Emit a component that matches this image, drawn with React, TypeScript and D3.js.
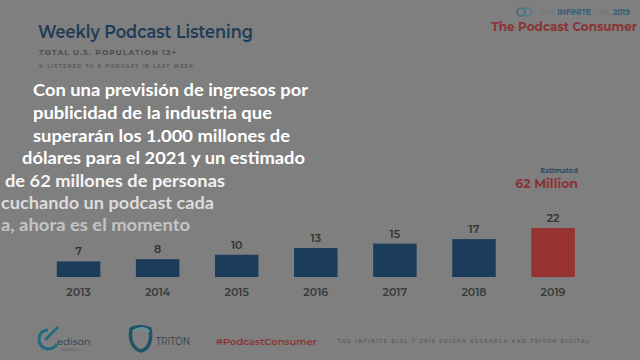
import React from "react";
import * as d3 from "d3";

const years = ["2013", "2014", "2015", "2016", "2017", "2018", "2019"];
const values = [7, 8, 10, 13, 15, 17, 22];
const highlightYear = "2019";
const overlayLines = [
  "Con una previsión de ingresos por",
  "publicidad de la industria que",
  "superarán los 1.000 millones de",
  "dólares para el 2021 y un estimado",
  "de 62 millones de personas",
  "cuchando un podcast cada",
  "a, ahora es el momento",
];

const W = 640;
const H = 360;

export default function App() {
  const x = d3
    .scaleBand<string>()
    .domain(years)
    .range([39, 592.6])
    .paddingInner(0.45)
    .paddingOuter(0.225);
  const y = d3.scaleLinear().domain([0, 22]).range([277, 228]);

  const overlayLayout = [
    { x: 33, y: 96, w: 275, fill: "#ffffff" },
    { x: 33, y: 119, w: 239, fill: "#ffffff" },
    { x: 33, y: 142, w: 257, fill: "#ffffff" },
    { x: 22, y: 164, w: 283, fill: "#ffffff" },
    { x: 5, y: 187, w: 220, fill: "#f4f4f4" },
    { x: 1, y: 209, w: 213, fill: "#dcdcdc" },
    { x: 1, y: 231, w: 189, fill: "#c4c4c4" },
  ];

  return (
    <svg
      width={W}
      height={H}
      style={{ position: "absolute", left: 0, top: 0, display: "block" }}
      fontFamily="Montserrat, 'Open Sans', Lato, sans-serif"
    >
      <rect x={0} y={0} width={W} height={H} fill="#7f7f7f" />

      {/* Title block */}
      <text x={38} y={38} fontSize={17.5} fontWeight={600} fill="#1d3c57" textLength={215} lengthAdjust="spacingAndGlyphs">
        Weekly Podcast Listening
      </text>
      <text x={39} y={55} fontSize={7.5} fontWeight={700} fill="#4e4e4e" textLength={137} lengthAdjust="spacing">
        TOTAL U.S. POPULATION 12+
      </text>
      <text x={39} y={68} fontSize={5} fontWeight={700} fill="#5a5a5a" textLength={154} lengthAdjust="spacing">
        % LISTENED TO A PODCAST IN LAST WEEK
      </text>

      {/* Top-right brand */}
      <g>
        <circle cx={521} cy={12} r={4} fill="none" stroke="#3f6f7f" strokeWidth={1.6} />
        <circle cx={528} cy={12} r={4} fill="none" stroke="#4e7f8c" strokeWidth={1.6} />
        <text x={540} y={15} fontSize={8} fill="#5f6f78" textLength={90} lengthAdjust="spacing">
          <tspan fill="#6e7478">THE </tspan>
          <tspan fontWeight={700} fill="#3d6073">INFINITE </tspan>
          <tspan fill="#6e7478">DIAL </tspan>
          <tspan fontWeight={700} fill="#3d6073">2019</tspan>
        </text>
        <text x={637} y={31} textAnchor="end" fontSize={12} fontWeight={700} fill="#8a3434">
          The Podcast Consumer
        </text>
      </g>

      {/* Bars */}
      {years.map((yr, i) => {
        const v = values[i];
        const bx = x(yr)!;
        const bw = x.bandwidth();
        const top = y(v);
        const isHi = yr === highlightYear;
        return (
          <g key={yr}>
            <rect x={bx} y={top} width={bw} height={y(0) - top} fill={isHi ? "#963230" : "#1b3d5b"} />
            <text x={bx + bw / 2} y={top - 6} textAnchor="middle" fontSize={11} fontWeight={600} fill="#333333">
              {v}
            </text>
            <text x={bx + bw / 2} y={296} textAnchor="middle" fontSize={11} fontWeight={600} fill="#3a3a3a">
              {yr}
            </text>
          </g>
        );
      })}

      {/* Estimated annotation */}
      <text x={578} y={173} textAnchor="end" fontSize={7} fontWeight={700} fill="#2a4a66">
        Estimated
      </text>
      <text x={578} y={188} textAnchor="end" fontSize={12.5} fontWeight={700} fill="#8a3434">
        62 Million
      </text>

      {/* Footer */}
      <g>
        <path d="M48,330 C36,330 36,348 48,349 C52,349 55,347 57,344" fill="none" stroke="#1f6a7f" strokeWidth={3} />
        <path d="M45,340 L58,327" stroke="#1f6a7f" strokeWidth={2.5} />
        <text x={57} y={345} fontSize={10} fill="#2a3a44">edison</text>
        <text x={62} y={351} fontSize={3} fill="#3a4a54">RESEARCH</text>
      </g>
      <g>
        <path d="M131,329 C129,340 133,349 141,351 C149,349 152,340 150,329 C146,326 135,326 131,329 Z" fill="none" stroke="#1d5566" strokeWidth={3.5} />
        <path d="M134,331 C140,327 146,328 149,332" fill="none" stroke="#6a8e94" strokeWidth={3} />
        <text x={156} y={345} fontSize={11} fill="#2e3a42" textLength={34} lengthAdjust="spacingAndGlyphs">TRITON</text>
      </g>
      <text x={216} y={345} fontSize={9.5} fontWeight={600} fill="#8a3434" textLength={101} lengthAdjust="spacingAndGlyphs">
        #PodcastConsumer
      </text>
      <text x={338} y={343} fontSize={4.5} fontWeight={700} fill="#5e5e5e" textLength={251} lengthAdjust="spacing">
        THE INFINITE DIAL   © 2019 EDISON RESEARCH AND TRITON DIGITAL
      </text>

      {/* Overlay caption */}
      {overlayLines.map((line, i) => {
        const l = overlayLayout[i];
        return (
          <text
            key={i}
            x={l.x}
            y={l.y}
            fontSize={17}
            fontWeight={700}
            fill={l.fill}
            fontFamily="Lato, 'Open Sans', sans-serif"
            textLength={l.w}
            lengthAdjust="spacingAndGlyphs"
          >
            {line}
          </text>
        );
      })}
    </svg>
  );
}
